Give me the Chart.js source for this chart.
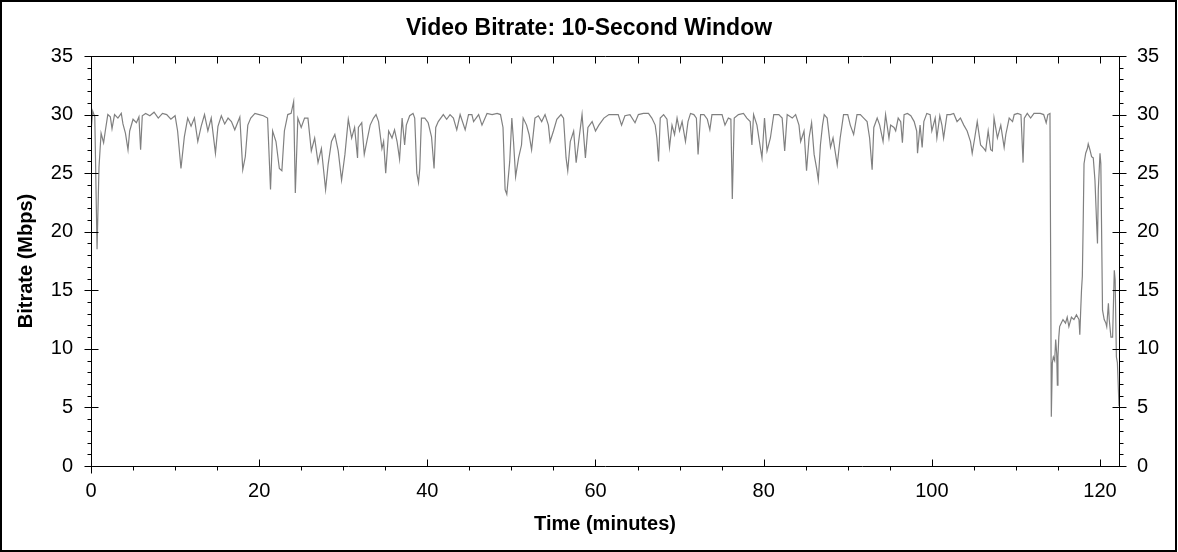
<!DOCTYPE html>
<html>
<head>
<meta charset="utf-8">
<title>Video Bitrate: 10-Second Window</title>
<script src="https://cdn.jsdelivr.net/npm/chart.js@4.4.1/dist/chart.umd.min.js"></script>
<style>
  html, body { margin: 0; padding: 0; background: #fff; }
  canvas { display: block; }
</style>
</head>
<body>
<canvas id="bitrateChart" width="1178" height="552"></canvas>
<script>
// Time (minutes) and bitrate (Mbps)
const times = [
  0.0, 0.2, 0.45, 0.72, 0.95, 1.2, 1.5, 1.7, 2.0, 2.3, 2.5, 2.8, 3.2, 3.6, 3.8, 4.1, 4.4, 4.6, 5.0, 5.4,
  5.7, 5.9, 6.1, 6.5, 7.0, 7.5, 8.0, 8.5, 9.0, 9.5, 10.0, 10.3, 10.7, 11.1, 11.5, 11.9, 12.3, 12.7, 13.1, 13.5,
  13.9, 14.3, 14.8, 15.1, 15.5, 15.9, 16.3, 16.7, 17.1, 17.7, 18.05, 18.35, 18.65, 19.0, 19.5, 20.0, 20.5, 21.0, 21.35, 21.6,
  22.0, 22.4, 22.7, 23.0, 23.4, 23.8, 24.1, 24.3, 24.6, 25.0, 25.4, 25.8, 26.2, 26.6, 27.0, 27.4, 27.9, 28.2, 28.6, 29.0,
  29.4, 29.8, 30.2, 30.6, 31.0, 31.35, 31.7, 31.8, 32.2, 32.5, 32.8, 33.2, 33.6, 33.9, 34.2, 34.6, 34.8, 35.05, 35.4, 35.8,
  36.1, 36.4, 36.7, 37.0, 37.3, 37.5, 37.9, 38.3, 38.5, 38.75, 38.95, 39.1, 39.3, 39.7, 40.1, 40.5, 40.8, 41.0, 41.3, 41.9,
  42.3, 42.7, 43.1, 43.5, 43.9, 44.5, 44.9, 45.3, 45.5, 46.1, 46.5, 47.1, 47.7, 48.3, 48.7, 49.0, 49.25, 49.45, 49.8, 50.05,
  50.25, 50.5, 50.85, 51.2, 51.4, 51.8, 52.1, 52.4, 52.8, 53.2, 53.6, 54.0, 54.4, 54.6, 55.0, 55.4, 55.9, 56.2, 56.5, 56.7,
  57.0, 57.4, 57.7, 58.0, 58.4, 58.8, 59.1, 59.6, 60.0, 60.4, 61.0, 61.6, 62.2, 62.7, 63.1, 63.5, 64.1, 64.7, 65.1, 65.7,
  66.3, 66.7, 67.1, 67.3, 67.5, 67.7, 68.1, 68.5, 68.8, 69.1, 69.4, 69.7, 70.0, 70.3, 70.7, 71.0, 71.3, 71.7, 72.0, 72.2,
  72.5, 72.9, 73.3, 73.6, 73.85, 74.45, 75.05, 75.4, 75.8, 76.1, 76.27, 76.5, 77.0, 77.6, 78.0, 78.4, 78.6, 78.8, 79.2, 79.6,
  79.8, 80.1, 80.4, 80.8, 81.2, 81.8, 82.2, 82.5, 82.8, 83.4, 83.8, 84.2, 84.4, 84.8, 85.1, 85.4, 85.7, 86.0, 86.3, 86.5,
  86.75, 87.0, 87.2, 87.55, 87.95, 88.25, 88.75, 89.1, 89.5, 90.0, 90.3, 90.7, 91.1, 91.5, 91.9, 92.3, 92.6, 92.9, 93.1, 93.5,
  93.8, 94.2, 94.5, 94.9, 95.1, 95.5, 95.7, 96.0, 96.3, 96.5, 96.7, 97.1, 97.5, 97.9, 98.2, 98.3, 98.6, 98.85, 99.05, 99.4,
  99.8, 100.0, 100.4, 100.6, 100.95, 101.2, 101.4, 101.8, 102.2, 102.6, 103.0, 103.4, 103.8, 104.2, 104.6, 104.8, 105.1, 105.4, 105.8, 106.2,
  106.4, 106.7, 107.0, 107.2, 107.4, 107.8, 108.2, 108.6, 108.8, 109.2, 109.6, 109.8, 110.2, 110.6, 110.85, 111.0, 111.35, 111.75, 112.15, 112.5,
  112.9, 113.3, 113.6, 113.8, 114.05, 114.13, 114.21, 114.33, 114.45, 114.61, 114.73, 114.85, 114.93, 115.0, 115.1, 115.2, 115.4, 115.6, 115.9, 116.1,
  116.3, 116.6, 116.9, 117.2, 117.5, 117.6, 117.7, 117.8, 117.9, 118.0, 118.1, 118.3, 118.5, 118.6, 118.8, 119.0, 119.2, 119.4, 119.6, 119.7,
  119.8, 120.0, 120.1, 120.3, 120.5, 120.7, 120.8, 121.0, 121.1, 121.3, 121.5, 121.7, 121.8, 121.95, 122.07, 122.26
];

const bitrate = [
  28.5, 30.3, 29.8, 18.5, 25.5, 28.4, 27.6, 28.6, 30.0, 29.8, 28.8, 30.0, 29.7, 30.1, 29.2, 28.4, 27.0, 28.6, 29.6, 29.3,
  29.8, 27.0, 29.9, 30.1, 29.9, 30.2, 29.7, 30.1, 30.0, 29.6, 29.9, 28.6, 25.4, 28.1, 29.7, 29.0, 29.7, 27.7, 29.0, 30.0,
  28.6, 29.7, 26.7, 29.0, 29.9, 29.2, 29.7, 29.4, 28.7, 29.8, 25.3, 26.4, 29.1, 29.7, 30.1, 30.0, 29.9, 29.7, 23.6, 28.6,
  27.7, 25.4, 25.2, 28.6, 30.0, 30.1, 31.1, 23.3, 29.7, 28.9, 29.7, 29.7, 26.9, 28.0, 25.9, 27.1, 23.6, 25.7, 27.7, 28.3,
  26.9, 24.4, 26.6, 29.6, 28.0, 28.9, 26.3, 28.9, 29.3, 26.6, 27.7, 29.1, 29.7, 30.0, 29.4, 27.1, 27.7, 25.0, 28.6, 28.0,
  28.7, 27.7, 26.2, 29.7, 27.4, 29.1, 29.9, 30.1, 29.7, 25.0, 24.2, 25.4, 29.7, 29.7, 29.3, 28.1, 25.4, 28.9, 29.4, 30.0,
  29.6, 30.0, 29.7, 28.7, 30.0, 28.7, 30.0, 30.0, 29.4, 30.0, 29.1, 30.1, 30.0, 30.1, 30.0, 28.9, 23.6, 23.2, 26.0, 29.7,
  27.7, 24.7, 26.3, 27.4, 29.7, 29.1, 28.3, 27.0, 29.7, 29.9, 29.4, 30.0, 29.1, 27.7, 28.6, 29.6, 30.0, 29.7, 26.3, 25.2,
  27.7, 28.6, 25.9, 27.7, 30.0, 26.3, 28.9, 29.4, 28.6, 29.1, 29.7, 30.0, 30.0, 30.0, 29.1, 29.9, 30.0, 29.3, 30.0, 30.1,
  30.1, 29.7, 29.1, 28.0, 26.0, 29.7, 30.0, 29.6, 27.2, 29.1, 28.3, 29.7, 28.6, 29.4, 27.7, 29.4, 30.1, 30.0, 29.7, 26.6,
  30.0, 30.0, 29.6, 28.7, 30.0, 30.0, 30.0, 29.1, 29.7, 29.6, 22.8, 29.7, 30.0, 30.1, 29.7, 29.4, 27.4, 30.0, 29.1, 27.2,
  26.3, 29.7, 26.9, 28.0, 30.0, 30.0, 29.7, 26.9, 30.0, 29.7, 30.0, 29.1, 27.7, 28.6, 25.2, 28.0, 29.3, 26.6, 25.4, 24.4,
  27.4, 29.1, 30.0, 29.7, 27.2, 28.0, 25.7, 28.0, 30.0, 30.0, 29.1, 28.3, 30.0, 30.0, 29.7, 29.4, 28.0, 25.3, 28.9, 29.7,
  29.1, 27.7, 30.0, 28.0, 29.1, 28.9, 28.6, 29.7, 29.4, 27.6, 30.0, 30.1, 29.9, 29.4, 28.6, 26.7, 29.1, 27.2, 29.4, 30.1,
  30.0, 28.6, 29.7, 28.0, 29.9, 29.1, 28.0, 30.0, 30.0, 30.1, 29.4, 29.7, 29.1, 28.6, 27.7, 26.7, 28.0, 29.4, 27.4, 27.1,
  26.9, 28.6, 27.0, 26.9, 29.7, 28.0, 29.1, 27.2, 28.3, 29.7, 29.4, 30.0, 30.1, 30.0, 25.9, 29.7, 30.1, 29.7, 30.1, 30.1,
  30.1, 30.0, 29.3, 30.0, 30.1, 17.9, 4.2, 8.8, 9.3, 9.0, 10.8, 9.6, 6.9, 9.3, 11.0, 11.9, 12.2, 12.5, 12.2, 12.7,
  11.9, 12.7, 12.5, 12.9, 12.5, 11.2, 13.2, 15.0, 16.2, 20.7, 25.8, 26.7, 27.1, 27.5, 27.0, 26.4, 26.3, 24.4, 20.7, 19.0,
  23.6, 26.7, 25.8, 13.3, 12.5, 12.2, 11.9, 13.9, 12.5, 11.0, 11.0, 16.7, 15.9, 9.3, 8.8, 5.1
];

const xTickLabels = [0, 20, 40, 60, 80, 100, 120];
const yTickLabels = [0, 5, 10, 15, 20, 25, 30, 35];

const tickFont = { family: 'Arial, "Liberation Sans", sans-serif', size: 20 };
const axisTitleFont = { family: 'Arial, "Liberation Sans", sans-serif', size: 20, weight: 'bold' };
const mainTitleFont = { family: 'Arial, "Liberation Sans", sans-serif', size: 23, weight: 'bold' };

// Frame, tick marks and outer border drawn from the scales
const frameTicks = {
    id: 'frameTicks',
    afterDraw(chart) {
        const { ctx, chartArea: a, scales: { x, y } } = chart;
        const L = Math.round(a.left) + 0.5;
        const R = Math.round(a.right) + 0.5;
        const T = Math.round(a.top) + 0.5;
        const B = Math.round(a.bottom) + 0.5;
        ctx.save();
        ctx.strokeStyle = '#000';
        ctx.lineWidth = 1;
        ctx.beginPath();
        ctx.rect(L, T, R - L, B - T);

        // y ticks (left and right): minor every 1, major every 5
        for (let v = 0; v <= 35; v++) {
            const py = Math.round(y.getPixelForValue(v)) + 0.5;
            if (v % 5 === 0) {
                ctx.moveTo(L - 7, py); ctx.lineTo(L + 7, py);
                ctx.moveTo(R - 7, py); ctx.lineTo(R + 7, py);
            } else {
                ctx.moveTo(L - 4, py); ctx.lineTo(L, py);
                ctx.moveTo(R, py); ctx.lineTo(R + 4, py);
            }
        }
        // x ticks: minor every 5, major every 20
        for (let t = 0; t <= 120; t += 5) {
            const px = Math.round(x.getPixelForValue(t)) + 0.5;
            if (t === 0) {
                ctx.moveTo(px, B); ctx.lineTo(px, B + 7);
            } else if (t % 20 === 0) {
                ctx.moveTo(px, B - 7); ctx.lineTo(px, B);
            } else {
                ctx.moveTo(px, B); ctx.lineTo(px, B + 4);
            }
            ctx.moveTo(px, T); ctx.lineTo(px, T + 7);
        }
        ctx.stroke();

        // outer border
        ctx.lineWidth = 2;
        ctx.strokeRect(1, 1, chart.width - 3, chart.height - 2);
        ctx.restore();
    }
};

new Chart(document.getElementById('bitrateChart'), {
    type: 'line',
    data: {
        datasets: [{
            label: 'Bitrate',
            data: times.map((t, i) => ({ x: t, y: bitrate[i] })),
            borderColor: '#808080',
            borderWidth: 1.2,
            pointRadius: 0,
            tension: 0,
            fill: false
        }]
    },
    options: {
        responsive: false,
        animation: false,
        devicePixelRatio: 1,
        layout: { padding: 0 },
        plugins: {
            legend: { display: false },
            tooltip: { enabled: false },
            title: {
                display: true,
                text: 'Video Bitrate: 10-Second Window',
                color: '#000',
                font: mainTitleFont,
                padding: { top: 14.4, bottom: 14 }
            }
        },
        scales: {
            x: {
                type: 'linear',
                min: 0,
                max: 122.26,
                afterBuildTicks: s => { s.ticks = xTickLabels.map(v => ({ value: v })); },
                afterFit: s => { s.height = 86; },
                grid: { display: false, drawTicks: false },
                border: { display: false },
                ticks: { color: '#000', font: tickFont, padding: 13, maxRotation: 0 },
                title: {
                    display: true,
                    text: 'Time (minutes)',
                    color: '#000',
                    font: axisTitleFont,
                    padding: { top: 0, bottom: 16 }
                }
            },
            y: {
                position: 'left',
                min: 0,
                max: 35,
                afterBuildTicks: s => { s.ticks = yTickLabels.map(v => ({ value: v })); },
                afterFit: s => { s.width = 91; },
                grid: { display: false, drawTicks: false },
                border: { display: false },
                ticks: { color: '#000', font: tickFont, padding: 18 },
                title: {
                    display: true,
                    text: 'Bitrate (Mbps)',
                    color: '#000',
                    font: axisTitleFont,
                    padding: { top: 14, bottom: 0 }
                }
            },
            y2: {
                position: 'right',
                min: 0,
                max: 35,
                afterBuildTicks: s => { s.ticks = yTickLabels.map(v => ({ value: v })); },
                afterFit: s => { s.width = 59; },
                grid: { display: false, drawTicks: false },
                border: { display: false },
                ticks: { color: '#000', font: tickFont, padding: 18 }
            }
        }
    },
    plugins: [frameTicks]
});
</script>
</body>
</html>
